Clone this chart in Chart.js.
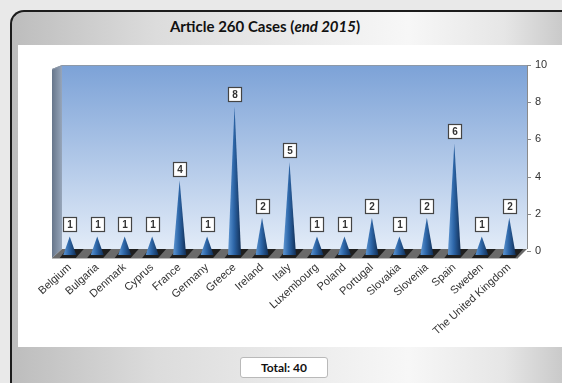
<!DOCTYPE html>
<html>
<head>
<meta charset="utf-8">
<script src="https://cdn.jsdelivr.net/npm/chart.js@4.4.1/dist/chart.umd.min.js"></script>
<style>
  html, body { margin: 0; padding: 0; background: #e9e9e9; }
  .wrap { width: 562px; height: 383px; position: relative; overflow: hidden; background: #e9e9e9; font-family: Lato, "Liberation Sans", sans-serif; }
  .panel {
    position: absolute; left: 10px; top: 10px; width: 600px; height: 400px;
    border-left: 2px solid #1c1c1c; border-top: 2px solid #1c1c1c; border-radius: 14px 0 0 0;
    background: linear-gradient(to right, #bdbdbd 0%, #dcdcdc 24%, #f7f7f7 66%, #e6e6e6 82%, #c6c6c6 93%);
    overflow: hidden;
  }
  .inner { position: absolute; left: 6px; top: 33px; right: 0; height: 302px; background: #fff; }
  .title { position: absolute; left: 0; top: 17px; width: 530px; text-align: center; font: bold 15px Lato, sans-serif; color: #111; }
  .total {
    position: absolute; left: 240px; top: 357px; width: 88px; height: 21px; box-sizing: border-box;
    border: 1px solid #b9b9b9; border-radius: 3px; background: #fff;
    font: bold 12px Lato, sans-serif; color: #111; text-align: center; line-height: 20px;
  }
  canvas { position: absolute; left: 0; top: 0; }
</style>
</head>
<body>
<div class="wrap">
<div class="panel"><div class="inner"></div></div>
<div class="title">Article 260 Cases (<i>end 2015</i>)</div>
<div class="total" id="total"></div>
<canvas id="myChart" width="562" height="383"></canvas>
</div>
<script>
// data
const countries = ['Belgium', 'Bulgaria', 'Denmark', 'Cyprus', 'France', 'Germany', 'Greece', 'Ireland', 'Italy',
  'Luxembourg', 'Poland', 'Portugal', 'Slovakia', 'Slovenia', 'Spain', 'Sweden', 'The United Kingdom'];
const cases = [1, 1, 1, 1, 4, 1, 8, 2, 5, 1, 1, 2, 1, 2, 6, 1, 2];
const yMax = 10;
const yStep = 2;

document.getElementById('total').textContent = 'Total: ' + cases.reduce((a, b) => a + b, 0);

// 3d box: side wall, back wall, floor
const wallPlugin = {
  id: 'wall3d',
  beforeDatasetsDraw(chart) {
    const ctx = chart.ctx;
    const { left, right, top, bottom } = chart.chartArea;
    const wl = left + 6, wr = right + 4;
    ctx.save();
    // back wall
    let g = ctx.createLinearGradient(0, top, 0, bottom);
    g.addColorStop(0, '#7ca2d7');
    g.addColorStop(1, '#e3ecf8');
    ctx.fillStyle = g;
    ctx.fillRect(wl, top, wr - wl, bottom - 2 - top);
    // side wall
    g = ctx.createLinearGradient(left - 4, 0, wl, 0);
    g.addColorStop(0, '#67768b');
    g.addColorStop(1, '#97a6ba');
    ctx.fillStyle = g;
    ctx.beginPath();
    ctx.moveTo(left - 4, top + 4);
    ctx.lineTo(wl, top);
    ctx.lineTo(wl, bottom - 2);
    ctx.lineTo(left - 4, bottom + 7);
    ctx.closePath();
    ctx.fill();
    // top rim
    ctx.strokeStyle = '#8d99a8';
    ctx.lineWidth = 1;
    ctx.beginPath();
    ctx.moveTo(left - 4, top + 4.5);
    ctx.lineTo(wl, top + 0.5);
    ctx.lineTo(wr, top + 0.5);
    ctx.stroke();
    // floor
    ctx.fillStyle = '#6a6a6a';
    ctx.beginPath();
    ctx.moveTo(wl, bottom - 2);
    ctx.lineTo(wr, bottom - 2);
    ctx.lineTo(wr - 9, bottom + 7);
    ctx.lineTo(left - 4, bottom + 7);
    ctx.closePath();
    ctx.fill();
    const meta = chart.getDatasetMeta(0);
    ctx.fillStyle = '#1e1e1e';
    meta.data.forEach(bar => {
      const x = bar.x;
      ctx.beginPath();
      ctx.moveTo(x - 3, bottom - 2);
      ctx.lineTo(x + 14, bottom - 2);
      ctx.lineTo(x + 6, bottom + 7);
      ctx.lineTo(x - 10, bottom + 7);
      ctx.closePath();
      ctx.fill();
    });
    ctx.fillStyle = '#b8b8b8';
    ctx.fillRect(left - 4, bottom + 7, wr - 9 - left + 4, 1);
    // right axis line and ticks
    const ys = chart.scales.y;
    ctx.strokeStyle = '#8a8a8a';
    ctx.beginPath();
    ctx.moveTo(wr + 0.5, top);
    ctx.lineTo(wr + 0.5, bottom - 2);
    ys.ticks.forEach(t => {
      const py = Math.round(ys.getPixelForValue(t.value)) + 0.5;
      ctx.moveTo(wr, py);
      ctx.lineTo(wr + 4, py);
    });
    ctx.stroke();
    ctx.restore();
  },
  afterDatasetsDraw(chart) {
    const ctx = chart.ctx;
    const base = chart.chartArea.bottom + 4;
    const ys = chart.scales.y;
    const meta = chart.getDatasetMeta(0);
    ctx.save();
    meta.data.forEach((bar, i) => {
      const x = bar.x;
      const tip = ys.getPixelForValue(cases[i]) + 4;
      const hw = 6.5;
      const g = ctx.createLinearGradient(x - hw, 0, x + hw, 0);
      g.addColorStop(0, '#5f97d3');
      g.addColorStop(0.45, '#2d66a8');
      g.addColorStop(1, '#112e55');
      ctx.fillStyle = g;
      ctx.beginPath();
      ctx.moveTo(x - hw, base);
      ctx.lineTo(x, tip);
      ctx.lineTo(x + hw, base);
      ctx.closePath();
      ctx.fill();
      // value box
      const bw = 13, bh = 14;
      const bx = Math.round(x - bw / 2) + 0.5, by = Math.round(tip - 5 - bh) + 0.5;
      ctx.fillStyle = '#fff';
      ctx.fillRect(bx, by, bw, bh);
      ctx.strokeStyle = '#444';
      ctx.lineWidth = 1.2;
      ctx.strokeRect(bx, by, bw, bh);
      ctx.fillStyle = '#333';
      ctx.font = 'bold 10px "Liberation Sans", Arial, sans-serif';
      ctx.textAlign = 'center';
      ctx.textBaseline = 'middle';
      ctx.fillText(String(cases[i]), bx + bw / 2, by + bh / 2 + 0.5);
    });
    ctx.restore();
  }
};

const data = {
  labels: countries,
  datasets: [{
    label: 'Cases',
    data: cases,
    backgroundColor: 'rgba(0,0,0,0)',
    borderWidth: 0,
  }]
};

// config
const config = {
  type: 'bar',
  data: data,
  options: {
    responsive: false,
    animation: false,
    layout: { padding: { left: 56, top: 65, right: 0, bottom: 0 } },
    plugins: {
      legend: false,
      tooltip: false,
    },
    scales: {
      x: {
        grid: { display: false, drawTicks: false },
        border: { display: false },
        ticks: {
          autoSkip: false,
          minRotation: 42,
          maxRotation: 42,
          padding: 10,
          color: '#333',
          font: { family: '"Liberation Sans", Arial, sans-serif', size: 11 }
        },
        afterFit(scale) { scale.height = 132; }
      },
      y: {
        position: 'right',
        min: 0,
        max: yMax,
        grid: { display: false, drawTicks: false },
        border: { display: false },
        ticks: {
          stepSize: yStep,
          padding: 12,
          color: '#333',
          font: { family: '"Liberation Sans", Arial, sans-serif', size: 11 }
        },
        afterFit(scale) { scale.width = 39; }
      }
    }
  },
  plugins: [wallPlugin]
};

const myChart = new Chart(document.getElementById('myChart'), config);
</script>
</body>
</html>
